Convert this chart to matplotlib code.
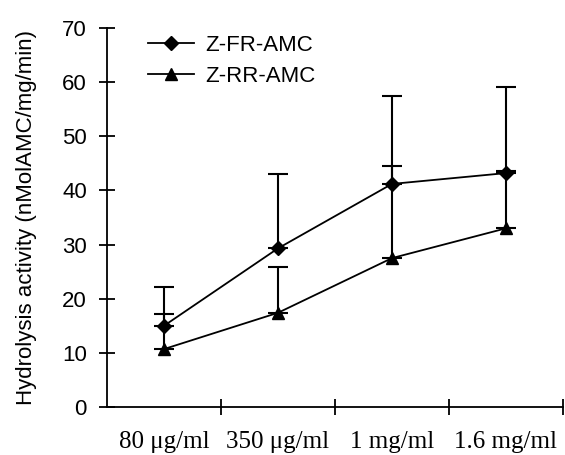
import numpy as np
import matplotlib
matplotlib.use('Agg')
import matplotlib.pyplot as plt
from matplotlib.lines import Line2D

# data
conc_labels = ['80 μg/ml', '350 μg/ml', '1 mg/ml', '1.6 mg/ml']
fr_mean = [15.0, 29.3, 41.2, 43.2]
fr_upper = [22.2, 43.0, 57.4, 59.1]
rr_mean = [10.7, 17.4, 27.5, 33.0]
rr_upper = [17.1, 25.9, 44.6, 43.6]

plt.rcParams['font.family'] = ['Liberation Sans', 'DejaVu Sans']

fig = plt.figure(figsize=(5.65, 4.55), dpi=100)
ax = fig.add_axes([0.1894, 0.1055, 0.807, 0.833])

x = np.arange(len(conc_labels)) + 0.5
fr_err = np.array(fr_upper) - np.array(fr_mean)
rr_err = np.array(rr_upper) - np.array(rr_mean)

ax.errorbar(x, fr_mean, yerr=[np.zeros_like(fr_err), fr_err], color='black',
            marker='D', markersize=7, lw=1.3, elinewidth=1.5, capsize=7,
            capthick=1.5)
ax.errorbar(x, rr_mean, yerr=[np.zeros_like(rr_err), rr_err], color='black',
            marker='^', markersize=9, lw=1.3, elinewidth=1.5, capsize=7,
            capthick=1.5)

ax.set_xlim(0, 4)
ax.set_ylim(0, 70)
ax.set_yticks(range(0, 71, 10))
ax.set_xticks([1, 2, 3, 4])
ax.set_xticklabels([])
ax.set_xticks(x, minor=True)
ax.set_xticklabels(conc_labels, minor=True, family=['Liberation Serif', 'DejaVu Serif'], fontsize=18)
ax.tick_params(axis='x', which='minor', length=0, pad=17)
ax.tick_params(axis='both', which='major', direction='inout', length=11, width=1.3, labelsize=16)
ax.tick_params(axis='y', pad=9)

for s in ['top', 'right']:
    ax.spines[s].set_visible(False)
for s in ['left', 'bottom']:
    ax.spines[s].set_linewidth(1.3)

ax.set_ylabel('Hydrolysis activity (nMolAMC/mg/min)', fontsize=16, labelpad=18)

handles = [Line2D([], [], color='black', marker='D', markersize=7, lw=1.3),
           Line2D([], [], color='black', marker='^', markersize=9, lw=1.3)]
ax.legend(handles, ['Z-FR-AMC', 'Z-RR-AMC'], loc='upper left',
          bbox_to_anchor=(0.045, 1.035), frameon=False, fontsize=16,
          handlelength=2.1, handletextpad=0.5, labelspacing=0.45)

fig.savefig('out.png', dpi=100)
